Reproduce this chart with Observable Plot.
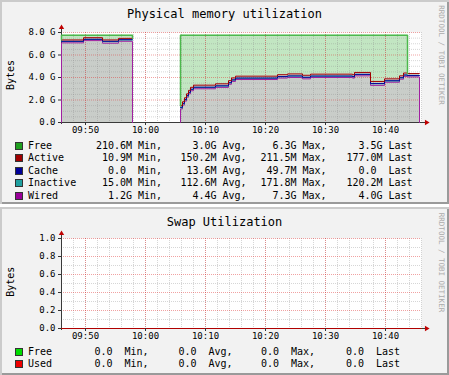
<!DOCTYPE html>
<html><head><meta charset="utf-8">
<script src="https://cdn.jsdelivr.net/npm/d3@7"></script>
<script src="https://cdn.jsdelivr.net/npm/@observablehq/plot@0.6"></script>
<style>
html,body{margin:0;padding:0;background:#fff;}
body{width:449px;height:375px;position:relative;overflow:hidden;font-family:"DejaVu Sans Mono",monospace;}
.panel{position:absolute;left:0;width:449px;background:#f2f2f2;
  box-shadow:inset 2px 2px 0 #cbcbcb, inset -2px -2px 0 #9a9a9a;}
</style>
</head><body>
<div id="p1" class="panel" style="top:0;height:204px"></div>
<div id="p2" class="panel" style="top:207px;height:168px"></div>
<script>
// ---------------- data ----------------
const xStart = "09:46:00", xEnd = "10:46:00";
const timeTicks = ["09:50", "10:00", "10:10", "10:20", "10:30", "10:40"];

const memTicks = [0, 2, 4, 6, 8];
const memTickLabels = ["0.0", "2.0 G", "4.0 G", "6.0 G", "8.0 G"];
const swapTicks = [0, 0.2, 0.4, 0.6, 0.8, 1.0];
const swapTickLabels = ["0.0", "0.2", "0.4", "0.6", "0.8", "1.0"];

// memory (GB), step samples; null = unknown
const memTimes = ["09:46:00","09:49:40","09:52:50","09:55:30","09:57:50","09:58:00",
  "10:05:50","10:06:10","10:06:30","10:06:50","10:07:10","10:07:30","10:08:00","10:11:40",
  "10:13:50","10:14:20","10:15:00","10:22:00","10:23:40","10:26:10","10:27:30","10:34:30",
  "10:34:50","10:37:30","10:39:50","10:42:20","10:43:00","10:43:40","10:45:40"];
const wired    = [7.08,7.28,7.05,7.22,7.22,null, 1.20,1.55,1.90,2.25,2.55,2.82,3.00,3.12,3.40,3.65,3.82,3.95,4.00,3.88,4.00,3.95,4.15,3.30,3.58,3.85,4.10,4.05,4.05];
const inactive = [0.12,0.10,0.14,0.12,0.12,null, 0.10,0.10,0.10,0.10,0.11,0.11,0.12,0.12,0.12,0.12,0.12,0.12,0.13,0.13,0.12,0.12,0.12,0.15,0.12,0.12,0.12,0.12,0.12];
const cache    = [0.02,0.02,0.03,0.02,0.02,null, 0.05,0.05,0.04,0.04,0.03,0.03,0.02,0.02,0.02,0.02,0.01,0.01,0.01,0.01,0.01,0.01,0.01,0.01,0.01,0.01,0.00,0.00,0.00];
const active   = [0.12,0.14,0.12,0.12,0.12,null, 0.15,0.15,0.16,0.16,0.17,0.17,0.18,0.18,0.18,0.17,0.17,0.17,0.18,0.18,0.17,0.17,0.17,0.19,0.17,0.17,0.18,0.18,0.18];
const free     = [0.41,0.21,0.41,0.27,0.27,null, 6.25,5.90,5.55,5.20,4.89,4.62,4.43,4.31,4.03,3.79,3.63,3.50,3.43,3.55,3.45,3.50,3.30,4.10,3.87,3.60,3.35,3.40,null];

// swap
const swapTimes = ["09:46:00", "10:46:00"];
const swapFree = [0, 0];
const swapUsed = [0, 0];

// legends
const memSeries = ["Free", "Active", "Cache", "Inactive", "Wired"];
const memMin  = ["210.6M", "10.9M", "0.0", "15.0M", "1.2G"];
const memAvg  = ["3.0G", "150.2M", "13.6M", "112.6M", "4.4G"];
const memMax  = ["6.3G", "211.5M", "49.7M", "171.8M", "7.3G"];
const memLast = ["3.5G", "177.0M", "0.0", "120.2M", "4.0G"];
const swapSeries = ["Free", "Used"];
const swapMin  = ["0.0", "0.0"];
const swapAvg  = ["0.0", "0.0"];
const swapMax  = ["0.0", "0.0"];
const swapLast = ["0.0", "0.0"];

// ---------------- styles ----------------
const memColors = ["#1f9f1f", "#a00000", "#000099", "#1fa0a0", "#990099"];
const swapColors = ["#00dd00", "#ee0000"];
const FONT = "'DejaVu Sans Mono', monospace";

// ---------------- helpers ----------------
const parseT = s => { const p = s.split(":").map(Number); return new Date(Date.UTC(2024, 0, 1, p[0], p[1], p[2] || 0)); };
const xDomain = [parseT(xStart), parseT(xEnd)];
const majorX = timeTicks.map(parseT);
const minorX = d3.utcMinute.every(2).range(xDomain[0], new Date(+xDomain[1] + 1)).filter(d => +d > +xDomain[0]);

function gridMarks(minorY, majorY) {
  return [
    Plot.ruleX(minorX, {stroke: "#8a8a8a", strokeOpacity: 0.35, strokeDasharray: "1,1"}),
    Plot.ruleY(minorY, {stroke: "#8a8a8a", strokeOpacity: 0.35, strokeDasharray: "1,1"}),
    Plot.ruleX(majorX, {stroke: "#e03030", strokeOpacity: 0.45, strokeDasharray: "1,1"}),
    Plot.ruleY(majorY, {stroke: "#e03030", strokeOpacity: 0.45, strokeDasharray: "1,1"})
  ];
}
function axisMarks(yTicks, yLabels, yMax) {
  return [
    Plot.axisX(majorX, {tickFormat: d3.utcFormat("%H:%M"), tickSize: 3, tickPadding: 1, fontSize: 9, label: null, stroke: "#333"}),
    Plot.axisY(yTicks, {tickFormat: d => yLabels[yTicks.indexOf(d)], tickSize: 3, tickPadding: 3, fontSize: 9, label: null, stroke: "#333"}),
    Plot.dot([xDomain[0]], {x: d => d, y: () => yMax, dy: -5, symbol: "triangle", r: 2, fill: "#c00000", stroke: "none"}),
    Plot.dot([xDomain[1]], {x: d => d, y: () => 0, dx: 5, rotate: 90, symbol: "triangle", r: 2, fill: "#c00000", stroke: "none"})
  ];
}
function axisLines(stroke) {
  return [
    Plot.ruleY([0], {stroke, insetLeft: -3, insetRight: -4}),
    Plot.ruleX([xDomain[0]], {stroke, insetTop: -4, insetBottom: -2})
  ];
}
const plotBase = {
  width: 449, height: 118, marginLeft: 61, marginRight: 28, marginTop: 12, marginBottom: 16,
  style: {background: "transparent", fontFamily: FONT, fontSize: "9px", color: "#000", overflow: "visible"},
  x: {type: "utc", domain: xDomain}
};

function overlay(host, cfg) {
  const ov = d3.select(host).append("svg").attr("width", 449).attr("height", cfg.h)
    .style("position", "absolute").style("left", "0").style("top", "0")
    .style("font-family", FONT).style("pointer-events", "none");
  ov.append("text").attr("x", 224.5).attr("y", cfg.titleY).attr("text-anchor", "middle")
    .attr("font-size", 12).attr("fill", "#000").text(cfg.title);
  ov.append("text").attr("transform", `translate(13.5,${cfg.unitY}) rotate(-90)`).attr("text-anchor", "middle")
    .attr("font-size", 10).attr("fill", "#000").text("Bytes");
  ov.append("text").attr("transform", `translate(438.5,${cfg.wmY}) rotate(90)`).attr("text-anchor", "middle")
    .attr("font-size", 7.5).attr("fill", "#ababab").text("RRDTOOL / TOBI OETIKER");
  const names = ["Min,", "Avg,", "Max,", "Last"];
  cfg.series.forEach((name, k) => {
    const cy = cfg.legY + k * 12.5;
    ov.append("rect").attr("x", 15).attr("y", Math.round(cy - 3.5)).attr("width", 7).attr("height", 7)
      .attr("fill", cfg.colors[k]).attr("stroke", "#333").attr("stroke-width", 1).attr("shape-rendering", "crispEdges");
    const by = cy + 3.6;
    ov.append("text").attr("x", 28).attr("y", by).attr("font-size", 10).attr("fill", "#000").text(name);
    cfg.stats.forEach((arr, j) => {
      const m = arr[k].match(/^([\d.]+)(\D?)$/);
      const num = m[1], unit = m[2] || " ";
      ov.append("text").attr("x", cfg.cols[j]).attr("y", by).attr("text-anchor", "end")
        .attr("font-size", 10).attr("fill", "#000").text(num);
      ov.append("text").attr("x", cfg.cols[j]).attr("y", by).attr("font-size", 10).attr("fill", "#000")
        .attr("xml:space", "preserve").style("white-space", "pre").text(unit + " " + names[j]);
    });
  });
}

// ---------------- memory chart ----------------
const rows = memTimes.map((t, k) => {
  const ok = wired[k] != null;
  const s1 = ok ? wired[k] : null;
  const s2 = ok ? s1 + inactive[k] : null;
  const s3 = ok ? s2 + cache[k] : null;
  const s4 = ok ? s3 + active[k] : null;
  const s5 = ok && free[k] != null ? s4 + free[k] : null;
  return {t: parseT(t), s1, s2, s3, s4, s5};
});
function segments(key) {
  const segs = []; let cur = [];
  rows.forEach(r => { if (r[key] == null) { if (cur.length) segs.push(cur); cur = []; } else cur.push(r); });
  if (cur.length) segs.push(cur);
  return segs;
}
// wired line drops to zero at segment edges; free line closes down to the used stack
const wiredEdge = [], freeEdge = [];
segments("s1").forEach((seg, n) => {
  wiredEdge.push({t: seg[0].t, y: 0, z: n});
  seg.forEach(r => wiredEdge.push({t: r.t, y: r.s1, z: n}));
  wiredEdge.push({t: seg[seg.length - 1].t, y: 0, z: n});
});
segments("s5").forEach((seg, n) => {
  freeEdge.push({t: seg[0].t, y: seg[0].s4, z: n});
  seg.forEach(r => freeEdge.push({t: r.t, y: r.s5, z: n}));
  freeEdge.push({t: seg[seg.length - 1].t, y: seg[seg.length - 1].s4, z: n});
});

const memPlot = Plot.plot({
  ...plotBase,
  y: {domain: [0, 8]},
  marks: [
    Plot.frame({fill: "#fff", stroke: "none"}),
    Plot.areaY(rows, {x: "t", y1: "s4", y2: "s5", curve: "step-after", fill: "#c2e6c2"}),
    Plot.areaY(rows, {x: "t", y1: 0, y2: "s4", curve: "step-after", fill: "#c9cdc9"}),
    ...gridMarks(d3.range(0.5, 8.01, 0.5).filter(v => v % 2 !== 0), memTicks.filter(v => v > 0)),
    ...axisLines("#3a3a3a"),
    Plot.line(wiredEdge, {x: "t", y: "y", z: "z", curve: "step-after", stroke: "#a020a0", strokeWidth: 1}),
    Plot.line(rows, {x: "t", y: "s2", curve: "step-after", stroke: "#20a0a0", strokeWidth: 1}),
    Plot.line(rows, {x: "t", y: "s3", curve: "step-after", stroke: "#000099", strokeWidth: 1}),
    Plot.line(rows, {x: "t", y: "s4", curve: "step-after", stroke: "#a00000", strokeWidth: 1}),
    Plot.line(freeEdge, {x: "t", y: "y", z: "z", curve: "step-after", stroke: "#4cb84c", strokeWidth: 1.5}),
    ...axisMarks(memTicks, memTickLabels, 8)
  ]
});
memPlot.style.position = "absolute"; memPlot.style.left = "0"; memPlot.style.top = "20px";
document.getElementById("p1").appendChild(memPlot);
overlay(document.getElementById("p1"), {
  h: 204, title: "Physical memory utilization", titleY: 18, unitY: 75, wmY: 55,
  legY: 145, series: memSeries, colors: memColors,
  stats: [memMin, memAvg, memMax, memLast], cols: [126, 210.5, 290.5, 376.5]
});

// ---------------- swap chart ----------------
const swapRows = swapTimes.map((t, k) => ({t: parseT(t), f: swapFree[k], u: swapFree[k] + swapUsed[k]}));
const swapPlot = Plot.plot({
  ...plotBase,
  y: {domain: [0, 1]},
  marks: [
    Plot.frame({fill: "#fff", stroke: "none"}),
    ...gridMarks(d3.range(0.1, 1.01, 0.2).map(v => +v.toFixed(1)), swapTicks.filter(v => v > 0)),
    ...axisLines("#3a3a3a"),
    Plot.line(swapRows, {x: "t", y: "f", curve: "step-after", stroke: "#00cc00", strokeWidth: 1}),
    Plot.line(swapRows, {x: "t", y: "u", curve: "step-after", stroke: "#b00000", strokeWidth: 1}),
    ...axisMarks(swapTicks, swapTickLabels, 1)
  ]
});
swapPlot.style.position = "absolute"; swapPlot.style.left = "0"; swapPlot.style.top = "19px";
document.getElementById("p2").appendChild(swapPlot);
overlay(document.getElementById("p2"), {
  h: 168, title: "Swap Utilization", titleY: 18.5, unitY: 74.7, wmY: 55.5,
  legY: 144, series: swapSeries, colors: swapColors,
  stats: [swapMin, swapAvg, swapMax, swapLast], cols: [112.5, 196.5, 279, 364]
});
</script>
</body></html>
